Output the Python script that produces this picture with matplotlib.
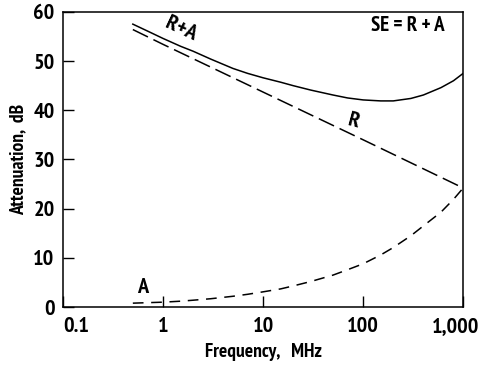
import matplotlib.pyplot as plt
import matplotlib.transforms as mtransforms
from matplotlib import font_manager

# Valores (frecuencia en MHz, atenuacion en dB)
freq = [0.5, 0.7, 1, 1.5, 2, 3, 5, 7, 10, 15, 20, 30, 50, 70, 100, 150, 200, 300, 400, 600, 800, 1000]
total_ra = [57.5, 56.1, 54.6, 53.0, 52.0, 50.4, 48.5, 47.5, 46.6, 45.7, 45.0, 44.1, 43.1, 42.5, 42.1,
            41.9, 41.9, 42.4, 43.1, 44.6, 46.0, 47.5]
absorcion = [0.8, 0.9, 1.0, 1.2, 1.4, 1.7, 2.2, 2.6, 3.1, 3.7, 4.3, 5.2, 6.5, 7.6, 8.8,
             10.6, 12.1, 14.5, 16.5, 19.3, 21.9, 24.2]
freq_r = [0.5, 1, 10, 100, 1000]
reflexion = [56.4, 53.4, 43.7, 34.0, 24.2]

xticks = [0.1, 1, 10, 100, 1000]
xtick_labels = ["0.1", "1", "10", "100", "1,000"]
yticks = [0, 10, 20, 30, 40, 50, 60]

# buscar una fuente estrecha en negrita
fuente = None
for clave in ["Narrow", "Condensed"]:
    for f in font_manager.fontManager.ttflist:
        if clave in f.fname and ("Bold" in f.fname) and "Oblique" not in f.fname and "Italic" not in f.fname:
            fuente = f
            break
    if fuente:
        break
if fuente:
    nombre = fuente.name
    plt.rcParams["font.stretch"] = fuente.stretch
else:
    nombre = "DejaVu Sans"
plt.rcParams["font.family"] = [nombre, "DejaVu Sans"]
plt.rcParams["font.weight"] = "bold"

fig = plt.figure(figsize=(4.8, 3.7), dpi=100)
ax = fig.add_axes([0.131, 0.170, 0.834, 0.798])

ax.plot(freq, total_ra, color="black", lw=1.1)
ax.plot(freq_r, reflexion, color="black", lw=1.1, dashes=(11, 4))
ax.plot(freq, absorcion, color="black", lw=1.1, dashes=(7, 5))

ax.set_xscale("log")
ax.set_xlim(0.1, 1000)
ax.set_ylim(0, 60)
ax.set_xticks(xticks)
ax.set_xticklabels(xtick_labels)
ax.minorticks_off()
ax.set_yticks(yticks)
ax.tick_params(direction="in", length=8, width=1, labelsize=16)
ax.tick_params(axis="x", pad=7)
ax.tick_params(axis="y", pad=6)
for s in ax.spines.values():
    s.set_linewidth(1.1)

etiquetas = ax.get_xticklabels()
etiquetas[0].set_horizontalalignment("left")
etiquetas[-1].set_transform(etiquetas[-1].get_transform() +
                            mtransforms.ScaledTranslation(-0.08, 0, fig.dpi_scale_trans))

ax.set_xlabel("Frequency,   MHz", fontsize=14, fontweight="bold", labelpad=5)
ax.set_ylabel("Attenuation,  dB", fontsize=14, fontweight="bold", labelpad=4)

ax.text(1.5, 56.6, "R+A", fontsize=16, fontweight="bold", style="italic",
        rotation=-25, ha="center", va="center")
ax.text(80, 37.8, "R", fontsize=16, fontweight="bold", style="italic",
        rotation=-15, ha="center", va="center")
ax.text(0.62, 4.0, "A", fontsize=16, fontweight="bold", ha="center", va="center")
ax.text(280, 57.2, "SE = R + A", fontsize=15, fontweight="bold", ha="center", va="center")

fig.savefig("out.png", dpi=100)
